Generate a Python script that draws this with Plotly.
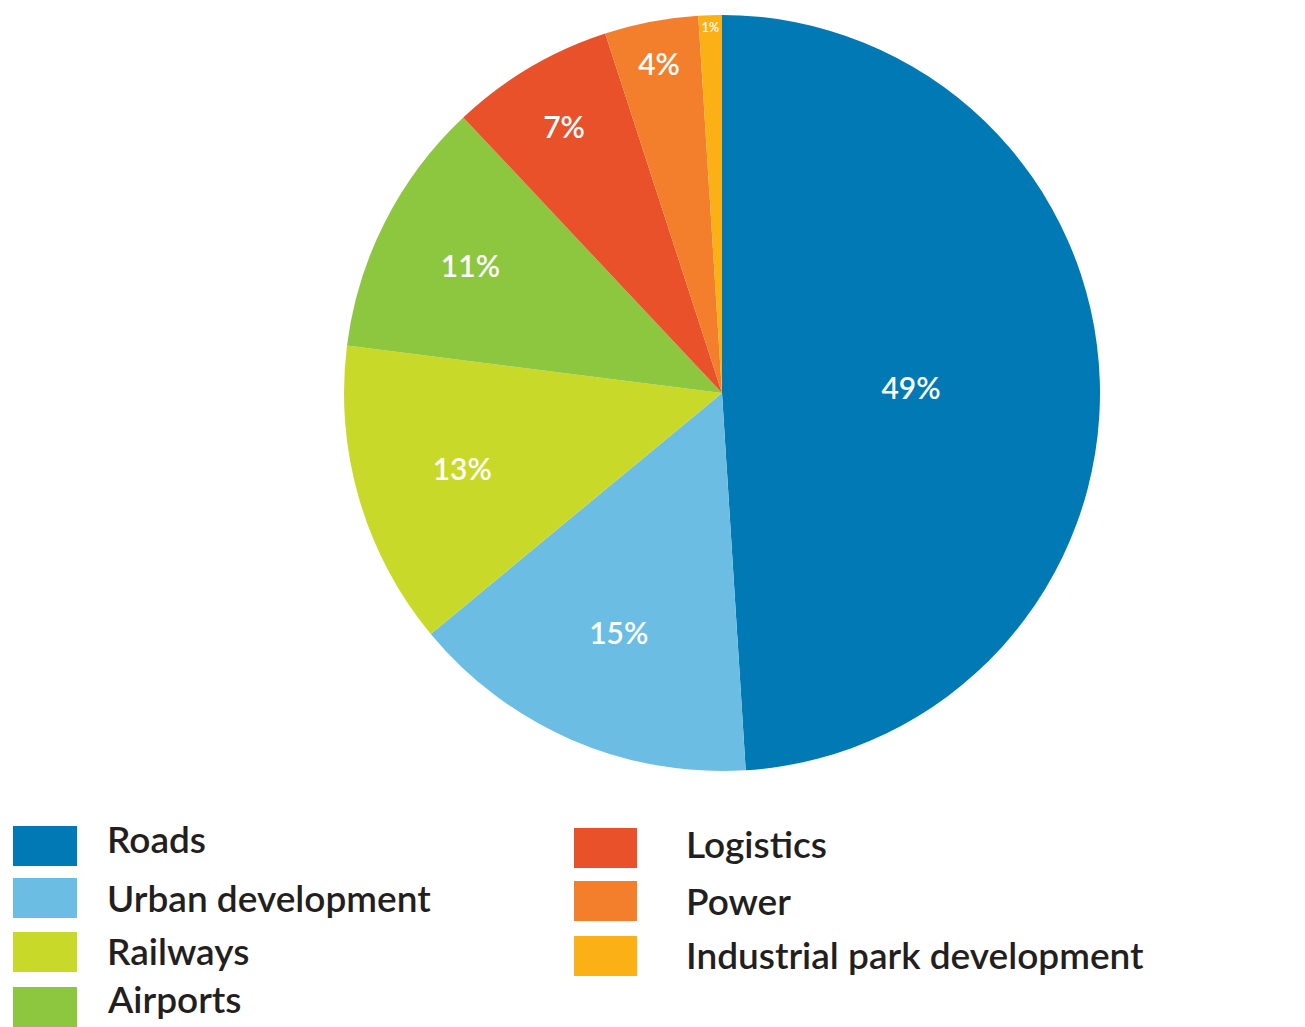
import plotly.graph_objects as go

categories = ["Roads", "Urban development", "Railways", "Airports",
              "Logistics", "Power", "Industrial park development"]
shares = [49, 15, 13, 11, 7, 4, 1]
colors = ["#0079B5", "#6CBDE4", "#C9D92A", "#8DC63F",
          "#E8512A", "#F37F2C", "#FBB016"]

W, H = 1305, 1027
cx, top, bottom = 722, 15, 771
r = (bottom - top) / 2

fig = go.Figure()
fig.add_trace(go.Pie(
    labels=categories,
    values=shares,
    sort=False,
    direction="clockwise",
    rotation=0,
    marker=dict(colors=colors, line=dict(width=0)),
    texttemplate="%{value}%",
    textposition="inside",
    insidetextorientation="horizontal",
    textfont=dict(family="Lato", size=30, color="white", weight=600),
    showlegend=False,
    hoverinfo="label+percent",
    domain=dict(x=[(cx - r) / W, (cx + r) / W],
                y=[1 - bottom / H, 1 - top / H]),
))

# custom two-column legend
col_x = [(13, 77, 105), (574, 637, 684)]
box_y = [[846, 898, 952, 1007], [848, 901, 956]]
text_y = [[838, 897, 950, 998], [843, 900, 954]]
split = 4
shapes, annotations = [], []
for i, (name, col) in enumerate(zip(categories, colors)):
    c = 0 if i < split else 1
    rr = i if i < split else i - split
    x0, x1, tx = col_x[c]
    yc = box_y[c][rr]
    shapes.append(dict(type="rect", xref="paper", yref="paper",
                       x0=x0 / W, x1=x1 / W,
                       y0=1 - (yc + 20) / H, y1=1 - (yc - 20) / H,
                       fillcolor=col, line=dict(width=0)))
    annotations.append(dict(text=name, xref="paper", yref="paper",
                            x=tx / W, y=1 - text_y[c][rr] / H,
                            xanchor="left", yanchor="middle", showarrow=False,
                            font=dict(family="Lato", size=37, color="#231F20",
                                      weight=600)))

fig.update_layout(
    width=W, height=H,
    margin=dict(l=0, r=0, t=0, b=0),
    paper_bgcolor="white", plot_bgcolor="white",
    shapes=shapes, annotations=annotations,
)
fig.write_html("out.html")
